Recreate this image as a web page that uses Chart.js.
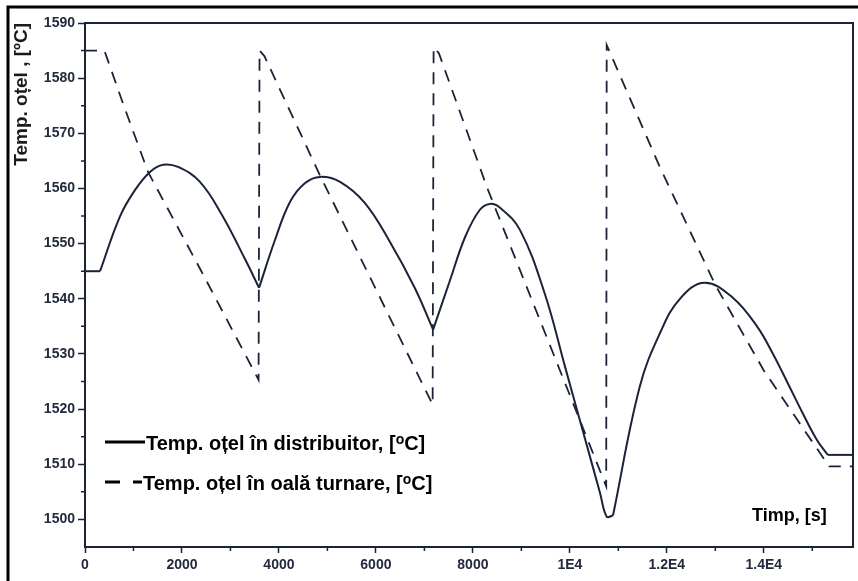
<!DOCTYPE html>
<html lang="ro">
<head>
<meta charset="UTF-8">
<title>Temp. otel</title>
<style>
  html, body { margin: 0; padding: 0; background: #fff; }
  #wrap { width: 858px; height: 581px; }
</style>
</head>
<body>
<div id="wrap"><canvas id="myChart" width="858" height="581"></canvas></div>

<script src="https://cdn.jsdelivr.net/npm/chart.js@4.4.0/dist/chart.umd.min.js"></script>
<script>
// distributor temperature: flat start, one arc per ladle, flat end (s, degC)
const timeDistStart = [0, 310];
const tempDistStart = [1545, 1545];
const timeDist1 = [310, 720, 1030, 1340, 1610, 1920, 2370, 2825, 3300, 3590];
const tempDist1 = [1545, 1554.9, 1559.7, 1563, 1564.3, 1563.9, 1561.2, 1555.2, 1547.2, 1542];
const timeDist2 = [3590, 3920, 4230, 4540, 4850, 5260, 5770, 6290, 6800, 7180];
const tempDist2 = [1542, 1550.7, 1557.6, 1561, 1562.1, 1561.2, 1557.4, 1550.3, 1542, 1534.4];
const timeDist3 = [7180, 7530, 7840, 8140, 8350, 8560, 8970, 9480, 9900, 10310, 10620, 10760, 10890];
const tempDist3 = [1534.4, 1543.4, 1551.2, 1556.1, 1557.2, 1556.5, 1552.5, 1541, 1527.7, 1514.7, 1504.9, 1500.5, 1500.7];
const timeDist4 = [10890, 11440, 11860, 12270, 12780, 13360, 13860, 14190, 14500, 14800, 15090, 15320];
const tempDist4 = [1500.7, 1524, 1533.8, 1540, 1542.9, 1540.2, 1535, 1530, 1524.6, 1519.3, 1514.5, 1511.7];
const timeDistEnd = [15320, 15840];
const tempDistEnd = [1511.7, 1511.7];

// ladle temperature
const timeLadle = [0, 400, 800, 1300, 2400, 3580, 3600, 3700, 4850, 7170, 7190, 7300, 8300, 10750, 10760, 11850, 13000, 14000, 14850, 15350, 15840];
const tempLadle = [1585, 1585, 1575, 1563, 1545, 1525.3, 1585, 1584, 1562.3, 1520.8, 1585.6, 1584.5, 1560, 1506, 1586, 1564, 1542.5, 1527, 1516, 1509.6, 1509.6];

const xTicks = [0, 2000, 4000, 6000, 8000, 10000, 12000, 14000];
const xTickLabels = ['0', '2000', '4000', '6000', '8000', '1E4', '1.2E4', '1.4E4'];
const xMinor = [1000, 3000, 5000, 7000, 9000, 11000, 13000, 15000];
const yTicks = [1500, 1510, 1520, 1530, 1540, 1550, 1560, 1570, 1580, 1590];
const yMinor = [1505, 1515, 1525, 1535, 1545, 1555, 1565, 1575, 1585];

const legendLabels = ['Temp. oțel în distribuitor, [', 'Temp. oțel în oală turnare, ['];

const navy = '#1b2339';
const zip = (t, v) => t.map((x, i) => ({ x: x, y: v[i] }));

const solid = (t, v, tension) => ({
  data: zip(t, v),
  borderColor: navy,
  borderWidth: 2,
  pointRadius: 0,
  tension: tension,
  fill: false
});

// unit "[oC]" with the small raised o
function drawUnit(ctx, pre, x, y, size) {
  ctx.font = 'bold ' + size + 'px "Liberation Sans", Arial, sans-serif';
  ctx.fillText(pre, x, y);
  x += ctx.measureText(pre).width;
  ctx.font = 'bold ' + Math.round(size * 0.72) + 'px "Liberation Sans", Arial, sans-serif';
  ctx.fillText('o', x, y - size * 0.3);
  x += ctx.measureText('o').width;
  ctx.font = 'bold ' + size + 'px "Liberation Sans", Arial, sans-serif';
  ctx.fillText('C]', x, y);
}

const extras = {
  id: 'extras',
  afterDraw(chart) {
    const ctx = chart.ctx, a = chart.chartArea;
    const sx = chart.scales.x, sy = chart.scales.y;
    ctx.save();
    // top and right frame of the plot
    ctx.strokeStyle = navy;
    ctx.lineWidth = 2;
    ctx.beginPath();
    ctx.moveTo(a.left, a.top);
    ctx.lineTo(a.right, a.top);
    ctx.lineTo(a.right, a.bottom);
    ctx.stroke();
    // minor ticks
    ctx.lineWidth = 1.5;
    ctx.beginPath();
    yMinor.forEach(v => {
      const p = sy.getPixelForValue(v);
      ctx.moveTo(a.left - 4, p);
      ctx.lineTo(a.left, p);
    });
    xMinor.forEach(v => {
      const p = sx.getPixelForValue(v);
      ctx.moveTo(p, a.bottom);
      ctx.lineTo(p, a.bottom + 4);
    });
    ctx.stroke();
    // black frame of the figure
    ctx.strokeStyle = '#000';
    ctx.lineWidth = 3;
    ctx.beginPath();
    ctx.moveTo(8, 581);
    ctx.lineTo(8, 7);
    ctx.lineTo(858, 7);
    ctx.stroke();

    // legend
    ctx.lineWidth = 3;
    ctx.beginPath();
    ctx.moveTo(105, 442); ctx.lineTo(145, 442);
    ctx.moveTo(105, 482); ctx.lineTo(120, 482);
    ctx.moveTo(133, 482); ctx.lineTo(142, 482);
    ctx.stroke();
    ctx.fillStyle = '#000';
    ctx.textBaseline = 'alphabetic';
    ctx.textAlign = 'left';
    drawUnit(ctx, legendLabels[0], 146, 450, 20);
    drawUnit(ctx, legendLabels[1], 143, 490, 20);

    ctx.font = 'bold 18px "Liberation Sans", Arial, sans-serif';
    ctx.fillText('Timp, [s]', 752, 521);
    ctx.restore();
  }
};

const config = {
  type: 'line',
  data: {
    datasets: [
      solid(timeDistStart, tempDistStart, 0),
      solid(timeDist1, tempDist1, 0.4),
      solid(timeDist2, tempDist2, 0.4),
      solid(timeDist3, tempDist3, 0.4),
      solid(timeDist4, tempDist4, 0.4),
      solid(timeDistEnd, tempDistEnd, 0),
      {
        data: zip(timeLadle, tempLadle),
        borderColor: navy,
        borderWidth: 1.8,
        borderDash: [12, 9],
        pointRadius: 0,
        tension: 0,
        fill: false
      }
    ]
  },
  options: {
    responsive: false,
    animation: false,
    devicePixelRatio: 1,
    layout: { padding: { left: 0, top: 23, right: 5, bottom: 0 } },
    plugins: { legend: { display: false }, tooltip: { enabled: false } },
    scales: {
      x: {
        type: 'linear',
        min: 0,
        max: 15840,
        afterBuildTicks: s => { s.ticks = xTicks.map(v => ({ value: v })); },
        afterFit: s => { s.height = 34; },
        grid: { drawOnChartArea: false, drawTicks: true, tickLength: 6, tickColor: navy, tickWidth: 1.5 },
        border: { display: true, color: navy, width: 2 },
        ticks: {
          padding: 4,
          color: '#232a3c',
          font: { family: '"Liberation Sans Narrow", "Arial Narrow", sans-serif', size: 14, weight: 'bold' },
          callback: v => xTickLabels[xTicks.indexOf(v)]
        }
      },
      y: {
        min: 1495,
        max: 1590,
        afterBuildTicks: s => { s.ticks = yTicks.map(v => ({ value: v })); },
        afterFit: s => { s.width = 85; },
        grid: { drawOnChartArea: false, drawTicks: true, tickLength: 7, tickColor: navy, tickWidth: 1.5 },
        border: { display: true, color: navy, width: 2 },
        ticks: {
          padding: 3,
          color: '#232a3c',
          font: { family: '"Liberation Sans Narrow", "Arial Narrow", sans-serif', size: 14, weight: 'bold' },
          callback: v => String(v)
        },
        title: {
          display: true,
          text: 'Temp. oțel , [ºC]',
          align: 'end',
          color: '#1a1a1a',
          padding: { top: 10, bottom: 0 },
          font: { family: '"Liberation Sans", Arial, sans-serif', size: 19, weight: 'bold' }
        }
      }
    }
  },
  plugins: [extras]
};

const myChart = new Chart(document.getElementById('myChart'), config);
</script>
</body>
</html>
